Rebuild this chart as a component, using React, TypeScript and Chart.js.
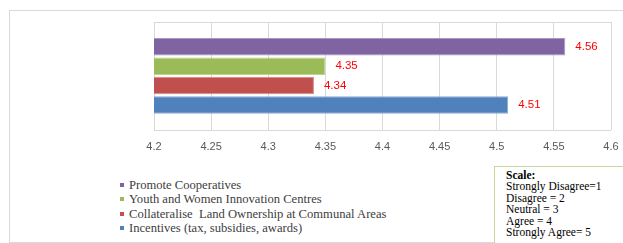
import React, { useEffect, useRef } from "react";
import { Chart, registerables } from "chart.js";

Chart.register(...registerables);

const seriesLabels = [
  "Promote Cooperatives",
  "Youth and Women Innovation Centres",
  "Collateralise  Land Ownership at Communal Areas",
  "Incentives (tax, subsidies, awards)",
];
const seriesValues = [4.56, 4.35, 4.34, 4.51];
const seriesColors = ["#8064A2", "#9BBB59", "#C0504D", "#4F81BD"];
const seriesBorders = ["#A898C0", "#BCD38E", "#D88A88", "#8AAAD6"];
const categories = [""];
const xMin = 4.2;
const xMax = 4.6;
const xStep = 0.05;
const scaleLines = [
  "Strongly Disagree=1",
  "Disagree = 2",
  "Neutral = 3",
  "Agree = 4",
  "Strongly Agree= 5",
];

const boxPlugin = {
  id: "boxPlugin",
  beforeDatasetsDraw(chart: any) {
    const { ctx, chartArea } = chart;
    ctx.save();
    ctx.strokeStyle = "#d9d9d9";
    ctx.lineWidth = 1;
    ctx.beginPath();
    ctx.moveTo(chartArea.left, Math.round(chartArea.top) + 0.5);
    ctx.lineTo(chartArea.right, Math.round(chartArea.top) + 0.5);
    ctx.moveTo(chartArea.left, Math.round(chartArea.bottom) + 0.5);
    ctx.lineTo(chartArea.right, Math.round(chartArea.bottom) + 0.5);
    ctx.stroke();
    ctx.restore();
  },
};

const labelPlugin = {
  id: "labelPlugin",
  afterDatasetsDraw(chart: any) {
    const { ctx } = chart;
    ctx.save();
    ctx.fillStyle = "#FF0000";
    ctx.font = "11.5px 'Liberation Sans', Arial, sans-serif";
    ctx.textBaseline = "middle";
    ctx.textAlign = "left";
    chart.data.datasets.forEach((ds: any, i: number) => {
      const meta = chart.getDatasetMeta(i);
      meta.data.forEach((bar: any, j: number) => {
        ctx.fillText(Number(ds.data[j]).toFixed(2), bar.x + 10, bar.y);
      });
    });
    ctx.restore();
  },
};

export default function App() {
  const ref = useRef<HTMLCanvasElement>(null);
  useEffect(() => {
    if (!ref.current) return;
    const chart = new Chart(ref.current, {
      type: "bar",
      data: {
        labels: categories,
        datasets: seriesLabels.map((label, i) => ({
          label,
          data: [seriesValues[i]],
          backgroundColor: seriesColors[i],
          borderColor: seriesBorders[i],
          borderWidth: 1,
          barPercentage: 0.9,
          categoryPercentage: 0.72,
        })),
      },
      options: {
        indexAxis: "y",
        responsive: false,
        maintainAspectRatio: false,
        animation: false,
        layout: { padding: { left: 154, right: 12, top: 22, bottom: 7 } },
        plugins: {
          legend: { display: false },
          tooltip: { enabled: false },
        },
        scales: {
          x: {
            min: xMin,
            max: xMax,
            border: { display: false },
            grid: { color: "#d9d9d9", drawTicks: true, tickLength: 11, tickColor: "rgba(0,0,0,0)" },
            ticks: {
              stepSize: xStep,
              padding: 0,
              color: "#595959",
              font: { family: "'Liberation Sans', Arial, sans-serif", size: 11 },
              callback: (v: any) => String(Math.round(Number(v) * 100) / 100),
            },
          },
          y: {
            display: false,
          },
        },
      },
      plugins: [boxPlugin, labelPlugin],
    } as any);
    return () => chart.destroy();
  }, []);

  return (
    <div style={{ position: "fixed", left: 0, top: 0, width: 623, height: 243, background: "#fff", overflow: "hidden" }}>
      <div
        style={{
          position: "absolute",
          left: 9,
          top: 10,
          width: 630,
          height: 231,
          border: "1px solid #d9d9d9",
        }}
      />
      <canvas ref={ref} width={623} height={161} style={{ position: "absolute", left: 0, top: 0, width: 623, height: 161 }} />
      <div
        style={{
          position: "absolute",
          left: 120,
          top: 178,
          fontFamily: "'Liberation Serif', 'Times New Roman', serif",
          fontSize: 12.6,
          color: "#404040",
          lineHeight: "14.3px",
        }}
      >
        {seriesLabels.map((l, i) => (
          <div key={i} style={{ display: "flex", alignItems: "center", whiteSpace: "pre" }}>
            <span style={{ display: "inline-block", width: 4, height: 4, background: seriesColors[i], marginRight: 5 }} />
            <span>{l}</span>
          </div>
        ))}
      </div>
      <div
        style={{
          position: "absolute",
          left: 494,
          top: 166,
          width: 140,
          height: 90,
          border: "1px solid #c3d69b",
          background: "#fff",
          fontFamily: "'Liberation Serif', 'Times New Roman', serif",
          fontSize: 11.5,
          color: "#000",
          lineHeight: "11.4px",
          padding: "3px 0 0 11px",
          boxSizing: "border-box",
        }}
      >
        <div style={{ fontWeight: "bold" }}>Scale:</div>
        {scaleLines.map((s, i) => (
          <div key={i}>{s}</div>
        ))}
      </div>
    </div>
  );
}
